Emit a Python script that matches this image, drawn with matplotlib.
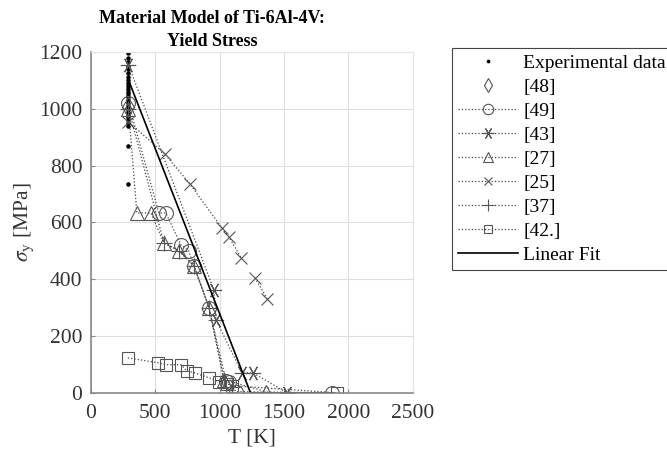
import matplotlib.pyplot as plt
import numpy as np

plt.rcParams['font.family'] = ['Liberation Serif', 'DejaVu Serif']
plt.rcParams['mathtext.fontset'] = 'stix'

# experimental data (room temperature)
exp_T = [293] * 26
exp_s = [1195, 1180, 1165, 1150, 1140, 1125, 1110, 1100, 1090, 1080, 1070, 1060, 1050,
         1040, 1030, 1020, 1010, 1000, 990, 980, 970, 960, 950, 940, 870, 735]

ref48_T = [293]
ref48_s = [1005]

ref49_T = [293, 529, 583, 700, 760, 801, 918, 1050, 1073, 1128, 1874]
ref49_s = [1020, 633, 633, 521, 500, 447, 300, 42, 39, 4, 0]

ref43_T = [293, 956, 972, 1174, 1260, 1524]
ref43_s = [1154, 362, 257, 70, 70, 0]

ref27_T = [293, 358, 467, 568, 684, 801, 918, 1034, 1361]
ref27_s = [1000, 633, 633, 528, 500, 447, 300, 46, 4]

ref25_T = [293, 575, 770, 1019, 1073, 1167, np.nan, 1275, 1369]
ref25_s = [954, 841, 735, 580, 549, 475, np.nan, 405, 331]

ref37_T = [293, 568, 684, 801, 918, 1034, 1100]
ref37_s = [1000, 528, 500, 447, 300, 46, 20]

ref42_T = [288, 521, 583, 700, 747, 809, 918, 995, 1058, 1097, 1913]
ref42_s = [123, 106, 99, 99, 77, 70, 53, 39, 32, 25, 0]

fit_T = [293, 1240, 1890]
fit_s = [1101, 0, 0]

fig = plt.figure(figsize=(6.67, 4.51), dpi=100)
ax = fig.add_axes([0.136, 0.129, 0.483, 0.756])

gray = '#555555'
ls = dict(linestyle=':', linewidth=0.9, color='#444444', markerfacecolor='none',
          markeredgecolor=gray, markeredgewidth=0.8)

ax.plot(exp_T, exp_s, '.', color='black', markersize=4.5, label='Experimental data')
ax.plot(ref48_T, ref48_s, linestyle='none', marker='d', markersize=10, markerfacecolor='none',
        markeredgecolor=gray, markeredgewidth=0.8, label='[48]')
ax.plot(ref49_T, ref49_s, marker='o', markersize=10, label='[49]', **ls)
ax.plot(ref43_T, ref43_s, marker=(6, 2, 90), markersize=11, label='[43]', **ls)
ax.plot(ref27_T, ref27_s, marker='^', markersize=10, label='[27]', **ls)
ax.plot(ref25_T, ref25_s, marker='x', markersize=8, label='[25]', **ls)
ax.plot(ref37_T, ref37_s, marker='+', markersize=11, label='[37]', **ls)
ax.plot(ref42_T, ref42_s, marker='s', markersize=8, label='[42.]', **ls)
ax.plot(fit_T, fit_s, '-', color='black', linewidth=1.2, label='Linear Fit')

ax.set_xlim(0, 2500)
ax.set_ylim(0, 1200)
ax.set_xticks(np.arange(0, 2501, 500))
ax.set_yticks(np.arange(0, 1201, 200))
ax.grid(True, color='#dddddd', linewidth=0.8)
ax.set_axisbelow(True)
ax.tick_params(direction='in', labelsize=15.5, colors='#888888', labelcolor='#333333',
               length=3, pad=8)
for s in ['top', 'right']:
    ax.spines[s].set_color('#e5e5e5')
for s in ['left', 'bottom']:
    ax.spines[s].set_color('#888888')
    ax.spines[s].set_linewidth(1.2)
ax.tick_params(axis='y', pad=6)

ax.set_xlabel('T [K]', fontsize=15.5, color='#333333', labelpad=4)
ax.set_ylabel(r'$\sigma_{\rm y}$ [MPa]', fontsize=15.5, color='#333333', labelpad=2)
fig.text(0.318, 0.978, 'Material Model of Ti-6Al-4V:\nYield Stress', fontsize=13,
         fontweight='bold', ha='center', va='top', linespacing=1.45)

leg = fig.legend(loc='upper left', bbox_to_anchor=(0.678, 0.893), fontsize=14,
                 handlelength=3.1, handletextpad=0.25, labelspacing=0.33, borderpad=0.3,
                 markerscale=0.75, fancybox=False, edgecolor='#444444', framealpha=1,
                 borderaxespad=0)
leg.get_frame().set_linewidth(0.8)

fig.savefig('out.png', dpi=100)
